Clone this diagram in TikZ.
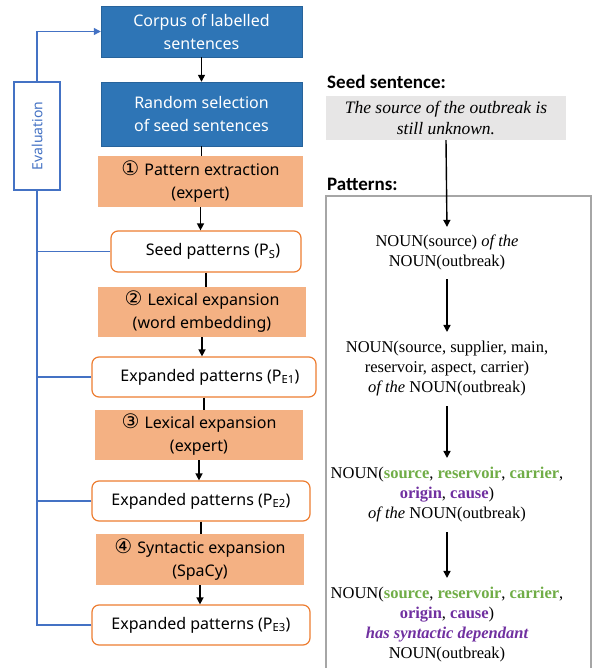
\documentclass[tikz,border=0pt]{standalone}
\usepackage{fontspec}
\setmainfont{Noto Sans}
\newfontfamily\serifrm{Liberation Serif}
\newfontfamily\headsf{Carlito}
\newfontfamily\digitsf{DejaVu Sans}
\usepackage{xcolor}
\usepackage{tikz}
\usetikzlibrary{arrows.meta}
\usetikzlibrary{positioning}
\definecolor{stepblue}{HTML}{2E75B6}
\definecolor{steporange}{HTML}{F4B183}
\definecolor{setorange}{HTML}{ED7D31}
\definecolor{evalblue}{HTML}{4472C4}
\definecolor{seedgray}{HTML}{E7E6E6}
\definecolor{framegray}{HTML}{A6A6A6}
\definecolor{wordgreen}{HTML}{70AD47}
\definecolor{wordpurple}{HTML}{7030A0}
\newcommand{\stepno}[1]{{\digitsf\fontsize{20}{23}\selectfont #1}\hspace{5pt}}
\newcommand{\green}[1]{\textcolor{wordgreen}{\bfseries #1}}
\newcommand{\purple}[1]{\textcolor{wordpurple}{\bfseries #1}}
\tikzstyle{blue_step}=[fill=stepblue, draw=stepblue!85!black, text=white, align=center,
    inner sep=0pt, font=\fontsize{16}{23}\selectfont]
\tikzstyle{orange_step}=[fill=steporange, align=center, inner sep=0pt,
    font=\fontsize{16}{23}\selectfont]
\tikzstyle{pattern_set}=[draw=setorange, line width=1.2pt, fill=white, rounded corners=7pt,
    inner sep=0pt, font=\fontsize{16}{23}\selectfont]
\tikzstyle{flow}=[draw=black, line width=1.4pt]
\tikzstyle{flow_arrow}=[flow, -{Triangle[length=7pt,width=7pt]}]
\tikzstyle{eval_line}=[draw=evalblue, line width=1.2pt]
\tikzstyle{eval_arrow}=[eval_line, -{Triangle[length=7pt,width=7pt]}]
\tikzstyle{heading}=[anchor=west, inner sep=0pt, font=\headsf\bfseries\fontsize{19}{20}\selectfont]
\tikzstyle{pattern_text}=[align=center, font=\serifrm\fontsize{16.5}{20}\selectfont]

\begin{document}
\begin{tikzpicture}[x=1pt, y=-1pt]
  \useasboundingbox (0,0) rectangle (592,668);
  % pipeline
  \node[blue_step, minimum width=201, minimum height=51] (corpus) at (201.5,31.5)
    {Corpus of labelled\\sentences};
  \node[blue_step, minimum width=201, minimum height=64] (random) at (201.5,114)
    {Random selection\\of seed sentences};
  \node[orange_step, minimum width=205, minimum height=51] (step1) at (200.5,181.5)
    {\stepno{①}Pattern extraction\\(expert)};
  \node[pattern_set, minimum width=190, minimum height=41] (ps) at (206,251.5)
    {\hspace{14pt}Seed patterns (P\textsubscript{S})};
  \node[orange_step, minimum width=208, minimum height=50] (step2) at (202,312)
    {\stepno{②}Lexical expansion\\(word embedding)};
  \node[pattern_set, minimum width=224, minimum height=40] (pe1) at (204,377)
    {\hspace{12pt}Expanded patterns (P\textsubscript{E1})};
  \node[orange_step, minimum width=208, minimum height=50] (step3) at (199,435)
    {\stepno{③}Lexical expansion\\(expert)};
  \node[pattern_set, minimum width=218, minimum height=40] (pe2) at (201,501)
    {Expanded patterns (P\textsubscript{E2})};
  \node[orange_step, minimum width=208, minimum height=51] (step4) at (200,559.5)
    {\stepno{④}Syntactic expansion\\(SpaCy)};
  \node[pattern_set, minimum width=218, minimum height=40] (pe3) at (201,625)
    {Expanded patterns (P\textsubscript{E3})};
  \draw[flow_arrow] (corpus.south) -- (corpus.south |- random.north);
  \draw[flow] (random.south) -- (random.south |- step1.north);
  \draw[flow_arrow] (step1.south) -- (step1.south |- ps.north);
  \draw[flow] (ps.south) -- (ps.south |- step2.north);
  \draw[flow_arrow] (step2.south) -- (step2.south |- pe1.north);
  \draw[flow] (pe1.south) -- (pe1.south |- step3.north);
  \draw[flow_arrow] (step3.south) -- (step3.south |- pe2.north);
  \draw[flow] (pe2.south) -- (pe2.south |- step4.north);
  \draw[flow_arrow] (step4.south) -- (step4.south |- pe3.north);
  % evaluation loop
  \node[draw=evalblue, line width=1.2pt, fill=white, text=evalblue, minimum width=46,
    minimum height=108, inner sep=0pt, font=\fontsize{14}{16}\selectfont] (eval) at (37,136)
    {\rotatebox{90}{Evaluation}};
  \draw[eval_arrow] (eval.north) |- (corpus.west);
  \draw[eval_line] (ps.west) -| (eval.south);
  \draw[eval_line] (pe1.west) -| (eval.south);
  \draw[eval_line] (pe2.west) -| (eval.south);
  \draw[eval_line] (pe3.west) -| (eval.south);
  % example on the right
  \node[heading] (seedhead) at (327,82) {Seed sentence:};
  \node[fill=seedgray, minimum width=240, minimum height=44, inner sep=0pt, align=center,
    font=\serifrm\itshape\fontsize{17.5}{21}\selectfont] (seed) at (446,118)
    {The source of the outbreak is\\still unknown.};
  \node[heading] (pathead) at (327,184) {Patterns:};
  \draw[framegray, line width=1.2pt] (326,668) -- (326,196) -- (591,196) -- (591,668);
  \node[pattern_text] (pat1) at (447,252)
    {NOUN(source) \textit{of the}\\NOUN(outbreak)};
  \node[pattern_text] (pat2) at (447,369)
    {NOUN(source, supplier, main,\\reservoir, aspect, carrier)\\\textit{of the} NOUN(outbreak)};
  \node[pattern_text] (pat3) at (447,495)
    {NOUN(\green{source}, \green{reservoir}, \green{carrier},\\\purple{origin}, \purple{cause})\\\textit{of the} NOUN(outbreak)};
  \node[pattern_text] (pat4) at (447,625)
    {NOUN(\green{source}, \green{reservoir}, \green{carrier},\\\purple{origin}, \purple{cause})\\\textcolor{wordpurple}{\bfseries\itshape has syntactic dependant}\\NOUN(outbreak)};
  \draw[flow_arrow, shorten >=4pt] (seed.south) -- (pat1.north);
  \draw[flow_arrow, shorten <=6pt, shorten >=6pt] (pat1.south) -- (pat2.north);
  \draw[flow_arrow, shorten <=6pt, shorten >=6pt] (pat2.south) -- (pat3.north);
  \draw[flow_arrow, shorten <=6pt, shorten >=6pt] (pat3.south) -- (pat4.north);
\end{tikzpicture}
\end{document}
